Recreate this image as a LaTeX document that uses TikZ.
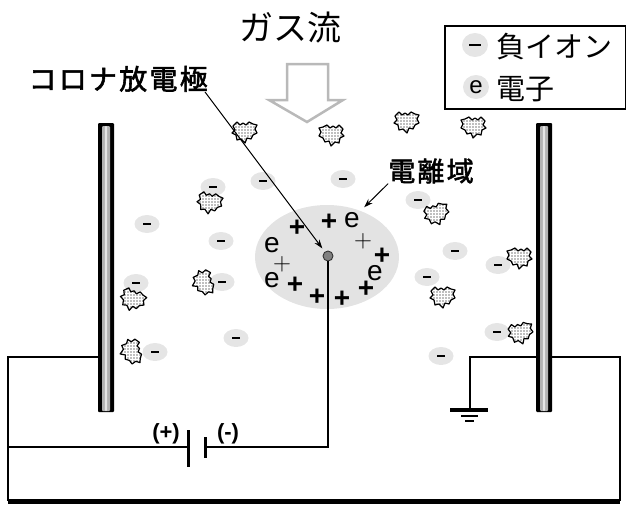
\documentclass[tikz,border=0pt]{standalone}
\usepackage{fontspec}
\setmainfont{Liberation Sans}
\newfontfamily\jp{Noto Sans CJK JP}
\newfontfamily\jpb[FakeBold=2,LetterSpace=8]{Noto Sans CJK JP}
\usetikzlibrary{shapes.geometric,arrows.meta,patterns}

\tikzset{
  wire/.style={line width=2.4pt, black},
  plate/.style={line width=3pt, black},
  ion/.style={ellipse, fill=gray!20, minimum width=25pt, minimum height=18pt, inner sep=0pt},
  electrode/.style={rectangle, fill=black, minimum width=16pt, minimum height=289pt,
    inner sep=0pt, rounded corners=1pt,
    path picture={
      \fill[gray!60] ([xshift=-4pt,yshift=1pt]path picture bounding box.south)
        rectangle ([xshift=4pt,yshift=-3pt]path picture bounding box.north);
      \fill[gray!20] ([xshift=-1.2pt,yshift=1pt]path picture bounding box.south)
        rectangle ([xshift=1.2pt,yshift=-3pt]path picture bounding box.north);
    }},
  plusb/.style={font=\bfseries\fontsize{28}{28}\selectfont, inner sep=0pt},
  plust/.style={font=\fontsize{27}{27}\selectfont, inner sep=0pt},
  elec/.style={font=\fontsize{28}{28}\selectfont, inner sep=0pt},
  pointer/.style={line width=1pt, -{Stealth[length=9pt,width=6pt]}},
  dust/.pic={
    \draw[line width=1.2pt, line join=round, preaction={fill=gray!50},
          pattern=grid, pattern color=white]
      (-12,-6) -- (-8,-10) -- (-5,-7) -- (-2,-9) -- (1,-7) -- (4,-10) -- (8,-8)
      -- (12,-7) -- (10,-3) -- (12,1) -- (8,3) -- (6,7) -- (2,6) -- (0,11)
      -- (-4,7) -- (-8,8) -- (-9,3) -- (-13,1) -- (-10,-2) -- cycle;
  }
}

\begin{document}
\begin{tikzpicture}[x=1pt,y=-1pt]
\useasboundingbox (0,0) rectangle (626,506);

% title and gas-flow arrow
\node[font=\jp\fontsize{34}{34}\selectfont] (title) at (290,28) {ガス流};
\draw[gray!55, line width=2.5pt, line join=miter, fill=white]
  (287,64) -- (328,64) -- (328,100) -- (343,100) -- (307,122) -- (269,100) -- (287,100) -- cycle;

% legend
\node[draw, line width=1.5pt, minimum width=181pt, minimum height=83pt, inner sep=0pt,
      anchor=north west] (legend) at (444,25) {};
\node[ion, minimum width=26pt, minimum height=24pt] (lgIon) at (475,45) {\rule{12pt}{2.2pt}};
\node[font=\jp\fontsize{29}{29}\selectfont, anchor=west, inner sep=0pt] (lgIonT) at (496,47) {負イオン};
\node[ion, minimum width=26pt, minimum height=24pt, font=\fontsize{24}{24}\selectfont] (lgE) at (476,87) {e};
\node[font=\jp\fontsize{29}{29}\selectfont, anchor=west, inner sep=0pt] (lgET) at (496,89) {電子};

% collecting electrodes
\node[electrode] (le) at (106,267.5) {};
\node[electrode] (re) at (544,267.5) {};

% ionisation zone around the corona wire
\node[ellipse, fill=gray!22, minimum width=144pt, minimum height=104pt] (zone) at (327,257) {};
\node[circle, fill=black!50, draw=black!80, line width=0.9pt, minimum size=10pt, inner sep=0pt] (cw) at (328,256) {};

\node[plusb] (p1) at (297,228) {+};
\node[plusb] (p2) at (329,222) {+};
\node[plusb] (p3) at (382,256) {+};
\node[plusb] (p4) at (366,289) {+};
\node[plusb] (p5) at (342,299) {+};
\node[plusb] (p6) at (317,297) {+};
\node[plusb] (p7) at (295,285) {+};
\node[plust] (t1) at (363,241) {$+$};
\node[plust] (t2) at (282,264) {$+$};
\node[elec] (e1) at (352,220) {e};
\node[elec] (e2) at (375,273) {e};
\node[elec] (e3) at (272,245) {e};
\node[elec] (e4) at (272,280) {e};

% negative ions
\foreach \n/\x/\y in {i1/213/187, i2/263/181, i3/147/224, i4/221/241, i5/136/283,
    i6/222/282, i7/236/338, i8/155/352, i9/343/179, i10/418/200, i11/455/251,
    i12/498/265, i13/427/277, i14/497/332, i15/441/356}
  \node[ion] (\n) at (\x,\y) {\rule{8pt}{2.8pt}};

% dust particles
\pic (d1) at (245,132) {dust};
\pic[xscale=-1] (d2) at (331,135) {dust};
\pic (d3) at (407,122) {dust};
\pic[xscale=-1] (d4) at (473,127) {dust};
\pic[rotate=-10] (d5) at (210,203) {dust};
\pic[rotate=15] (d6) at (437,214) {dust};
\pic[xscale=-1] (d7) at (519,258) {dust};
\pic (d8) at (443,297) {dust};
\pic[rotate=10] (d9) at (521,333) {dust};
\pic[rotate=-75] (d10) at (203,283) {dust};
\pic[rotate=-20] (d11) at (133,300) {dust};
\pic[rotate=-80] (d12) at (131,352) {dust};

% labels with pointers
\node[font=\jpb\fontsize{28}{28}\selectfont, anchor=south east, inner sep=0pt] (clabel) at (208,92) {コロナ放電極};
\draw[pointer, shorten >=4pt] ([xshift=-3pt]clabel.south east) -- (cw);
\node[font=\jpb\fontsize{27}{27}\selectfont, inner sep=0pt] (zlabel) at (431,171) {電離域};
\draw[pointer, shorten >=5pt] (zlabel.south west) -- (zone.54);

% circuit
\coordinate (lt) at (8,357);
\coordinate (lb) at (8,501);
\coordinate (lm) at (8,447);
\coordinate (rt) at (620,357);
\coordinate (rb) at (620,501);
\coordinate (bp) at (188,447);
\coordinate (bn) at (205,447);
\coordinate (gt) at (470,357);
\coordinate (g) at (470,410);

\draw[wire] (le.west |- lt) -- (lt) -- (lb);
\draw[wire] (re.east |- rt) -- (rt) -- (rb);
\draw[line width=5pt] (lb) -- (rb);
\draw[wire] (lm) -- (bp);
\draw[plate] (188,430) -- (188,467);
\draw[plate] (205,437) -- (205,458);
\draw[wire] (bn) -- (cw |- bn) -- (cw.south);
\node[font=\bfseries\fontsize{22}{22}\selectfont, inner sep=0pt] (bplus) at (166,434) {(+)};
\node[font=\bfseries\fontsize{22}{22}\selectfont, inner sep=0pt] (bminus) at (228,434) {(-)};

% earth connection
\draw[wire] (re.west |- gt) -- (gt) -- (g);
\draw[line width=3.5pt] (450,410) -- (488,410);
\draw[line width=2.6pt] (461,416) -- (478,416);
\draw[line width=2.6pt] (465,421) -- (474,421);
\end{tikzpicture}
\end{document}
